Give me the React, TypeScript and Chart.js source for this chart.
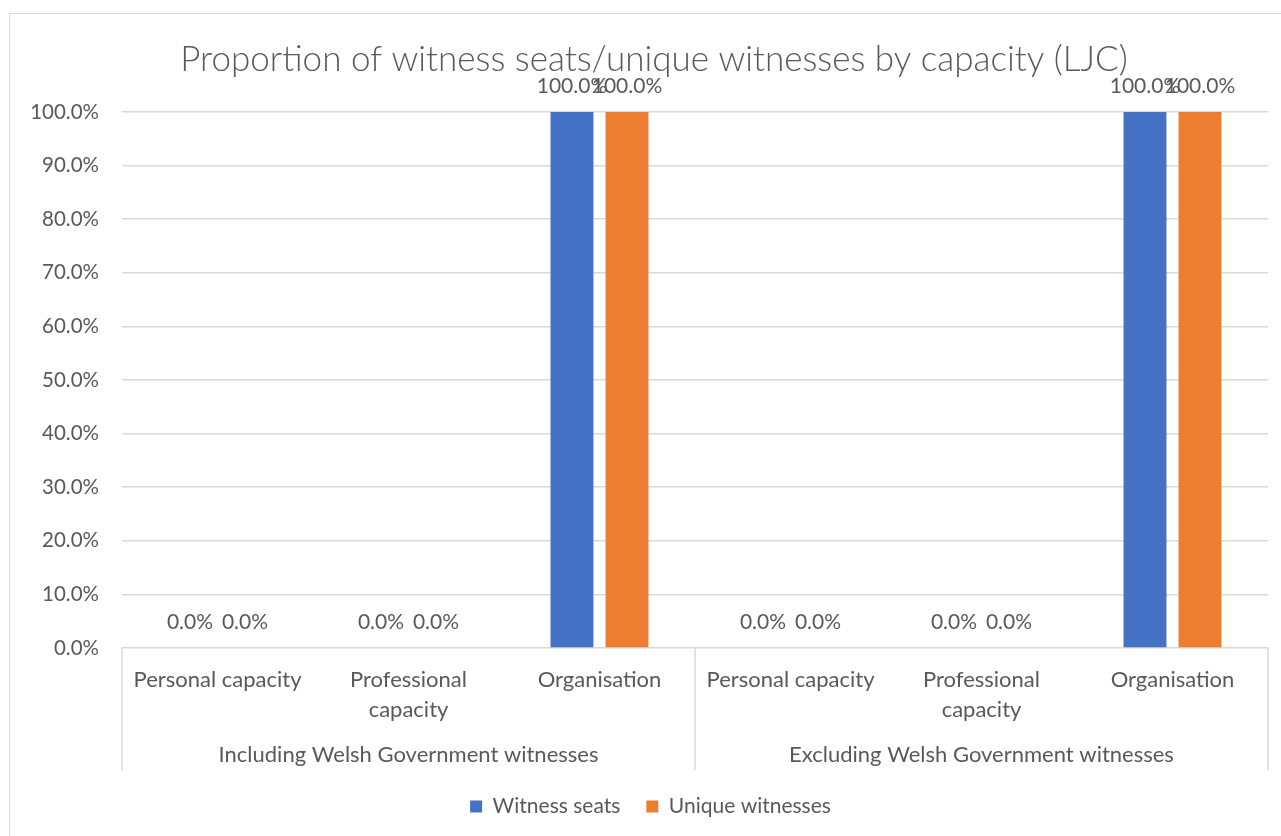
import React, { useEffect, useRef } from "react";
import { Chart, registerables } from "chart.js";

Chart.register(...registerables);

// ---- Data ----
const categories: (string | string[])[] = [
  "Personal capacity",
  ["Professional", "capacity"],
  "Organisation",
  "Personal capacity",
  ["Professional", "capacity"],
  "Organisation",
];
const groups: string[] = [
  "Including Welsh Government witnesses",
  "Excluding Welsh Government witnesses",
];
const groupSizes: number[] = [3, 3];
const witnessSeats: number[] = [0, 0, 100, 0, 0, 100];
const uniqueWitnesses: number[] = [0, 0, 100, 0, 0, 100];
const yMin = 0;
const yMax = 100;
const yStep = 10;

const titleText = "Proportion of witness seats/unique witnesses by capacity (LJC)";
const seriesNames = ["Witness seats", "Unique witnesses"];
const seriesColors = ["#4472C4", "#ED7D31"];

const FONT = 'Lato, "Liberation Sans", sans-serif';
const TEXT = "#595959";
const GRID = "#d9d9d9";

const fmt = (v: number) => v.toFixed(1) + "%";

const dataLabelsPlugin = {
  id: "dataLabels",
  afterDatasetsDraw(chart: any) {
    const ctx = chart.ctx;
    ctx.save();
    ctx.font = `21px ${FONT}`;
    ctx.fillStyle = TEXT;
    ctx.textAlign = "center";
    ctx.textBaseline = "middle";
    chart.data.datasets.forEach((ds: any, i: number) => {
      const meta = chart.getDatasetMeta(i);
      meta.data.forEach((el: any, j: number) => {
        ctx.fillText(fmt(ds.data[j]), el.x, el.y - 26);
      });
    });
    ctx.restore();
  },
};

const groupAxisPlugin = {
  id: "groupAxis",
  afterDraw(chart: any) {
    const x = chart.scales.x;
    const ctx = chart.ctx;
    const half = (x.getPixelForValue(1) - x.getPixelForValue(0)) / 2;
    const top = chart.chartArea.bottom;
    const bottom = x.bottom;
    ctx.save();
    ctx.strokeStyle = GRID;
    ctx.lineWidth = 1.5;
    ctx.fillStyle = TEXT;
    ctx.font = `22px ${FONT}`;
    ctx.textAlign = "center";
    ctx.textBaseline = "middle";
    const drawLine = (px: number) => {
      ctx.beginPath();
      ctx.moveTo(px, top);
      ctx.lineTo(px, bottom);
      ctx.stroke();
    };
    let start = 0;
    drawLine(x.getPixelForValue(0) - half);
    groups.forEach((g, gi) => {
      const end = start + groupSizes[gi] - 1;
      const left = x.getPixelForValue(start) - half;
      const right = x.getPixelForValue(end) + half;
      drawLine(right);
      ctx.fillText(g, (left + right) / 2, bottom - 15);
      start = end + 1;
    });
    ctx.restore();
  },
};

// Shift title and legend boxes horizontally so they centre on the full (cropped) chart frame
const shiftPlugin = {
  id: "shiftBoxes",
  afterLayout(chart: any) {
    const shift = (b: any, dx: number) => {
      if (b) {
        b.left += dx;
        b.right += dx;
      }
    };
    shift(chart.titleBlock, 7.5);
    shift(chart.legend, 4);
  },
};

export default function App() {
  const ref = useRef<HTMLCanvasElement | null>(null);

  useEffect(() => {
    if (!ref.current) return;
    const chart = new Chart(ref.current, {
      type: "bar",
      data: {
        labels: categories,
        datasets: [
          {
            label: seriesNames[0],
            data: witnessSeats,
            backgroundColor: seriesColors[0],
            categoryPercentage: 0.576,
            barPercentage: 0.78,
          },
          {
            label: seriesNames[1],
            data: uniqueWitnesses,
            backgroundColor: seriesColors[1],
            categoryPercentage: 0.576,
            barPercentage: 0.78,
          },
        ],
      },
      options: {
        responsive: false,
        animation: false,
        devicePixelRatio: 1,
        layout: { padding: { left: 15, right: 13, top: 0, bottom: 9 } },
        plugins: {
          title: {
            display: true,
            text: titleText,
            color: TEXT,
            font: { family: FONT, size: 35, weight: "300" as any, lineHeight: 1.2 },
            padding: { top: 25, bottom: 31 },
          },
          legend: {
            position: "bottom",
            labels: {
              boxWidth: 12,
              boxHeight: 12,
              padding: 26,
              color: TEXT,
              font: { family: FONT, size: 21 },
            },
          },
          tooltip: { enabled: false },
        },
        scales: {
          x: {
            grid: { display: false },
            border: { display: false },
            ticks: {
              color: TEXT,
              font: { family: FONT, size: 22, lineHeight: "30px" as any },
              padding: 9,
              maxRotation: 0,
              autoSkip: false,
            },
            afterFit: (s: any) => {
              s.height = 122;
            },
          },
          y: {
            min: yMin,
            max: yMax,
            grid: { color: GRID, lineWidth: 1.5, drawTicks: false },
            border: { display: false },
            ticks: {
              stepSize: yStep,
              color: TEXT,
              font: { family: FONT, size: 20.5 },
              padding: 23,
              callback: (v: any) => fmt(Number(v)),
            },
            afterFit: (s: any) => {
              s.width = 97;
            },
          },
        },
      },
      plugins: [dataLabelsPlugin, groupAxisPlugin, shiftPlugin],
    });
    return () => chart.destroy();
  }, []);

  return (
    <div
      style={{
        position: "absolute",
        left: 9,
        top: 13,
        width: 1272,
        height: 823,
        boxSizing: "border-box",
        borderLeft: `1px solid ${GRID}`,
        borderTop: `1px solid ${GRID}`,
        background: "#fff",
        overflow: "hidden",
      }}
    >
      <canvas ref={ref} width={1271} height={822} style={{ display: "block" }} />
    </div>
  );
}
